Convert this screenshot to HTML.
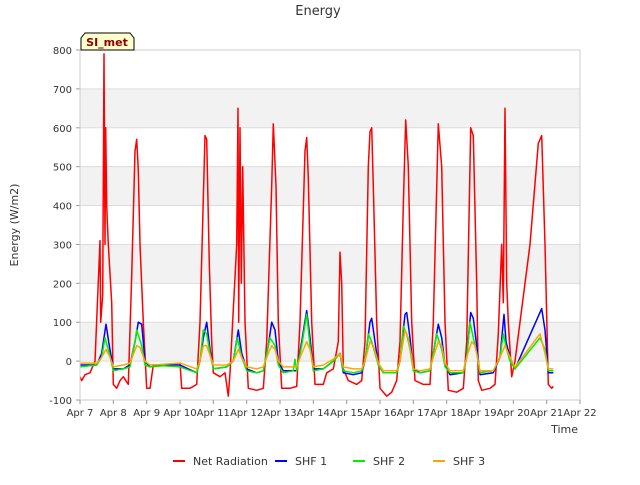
<!DOCTYPE html>
<html><head><meta charset="utf-8"><style>
body{margin:0;background:#fff;font-family:"Liberation Sans","DejaVu Sans",sans-serif}
</style></head><body>
<svg id="chart" width="640" height="480" xmlns="http://www.w3.org/2000/svg" font-family="DejaVu Sans, Liberation Sans, sans-serif">
<g id="bands"></g>
<g id="grid"></g>
<g id="series"></g>
<g id="axes"></g>
<text x="318" y="15" text-anchor="middle" font-size="13" fill="#333">Energy</text>
<text x="18" y="225" text-anchor="middle" font-size="11" fill="#333" transform="rotate(-90 18 225)">Energy (W/m2)</text>
<text x="578" y="433" text-anchor="end" font-size="11" fill="#333">Time</text>
<g>
<path d="M81,50 L81,38 L85,33 L130,33 L134,38 L134,50 Z" fill="#ffffcc" stroke="#000" stroke-width="1"/>
<text x="107" y="46" text-anchor="middle" font-size="11" font-weight="bold" fill="#8b0000">SI_met</text>
</g>
<g id="legend"></g>
</svg>
<script>
const yTicks=[-100,0,100,200,300,400,500,600,700,800];
const xTickLabels=["Apr 7","Apr 8","Apr 9","Apr 10","Apr 11","Apr 12","Apr 13","Apr 14","Apr 15","Apr 16","Apr 17","Apr 18","Apr 19","Apr 20","Apr 21","Apr 22"];
const seriesNames=["Net Radiation","SHF 1","SHF 2","SHF 3"];
const netRad=[[0,-40],[0.05,-50],[0.15,-35],[0.3,-30],[0.45,0],[0.6,310],[0.62,100],[0.68,170],[0.72,790],[0.75,300],[0.77,600],[0.8,400],[0.85,300],[0.95,150],[1.0,-60],[1.1,-70],[1.2,-50],[1.3,-40],[1.45,-60],[1.55,220],[1.65,540],[1.7,570],[1.75,490],[1.8,300],[1.9,100],[2.0,-70],[2.1,-70],[2.2,-10],[2.5,-10],[3.0,-5],[3.05,-70],[3.3,-70],[3.5,-60],[3.6,100],[3.75,580],[3.8,570],[3.88,250],[3.95,50],[4.0,-30],[4.2,-40],[4.35,-30],[4.45,-90],[4.5,-30],[4.7,300],[4.74,650],[4.76,100],[4.8,600],[4.84,200],[4.88,500],[4.95,100],[5.05,-70],[5.3,-75],[5.5,-70],[5.6,50],[5.75,450],[5.8,610],[5.88,450],[5.95,100],[6.05,-70],[6.3,-70],[6.5,-65],[6.6,100],[6.75,540],[6.8,575],[6.85,470],[6.95,100],[7.05,-60],[7.3,-60],[7.4,-30],[7.6,-20],[7.75,50],[7.8,280],[7.85,200],[7.9,-20],[8.05,-50],[8.3,-60],[8.45,-50],[8.55,50],[8.65,500],[8.7,590],[8.75,600],[8.8,450],[8.9,100],[9.0,-70],[9.2,-90],[9.35,-80],[9.5,-50],[9.6,50],[9.7,400],[9.77,620],[9.85,500],[9.95,100],[10.05,-50],[10.3,-60],[10.5,-60],[10.6,100],[10.75,610],[10.85,500],[10.95,100],[11.05,-75],[11.3,-80],[11.5,-70],[11.6,50],[11.72,600],[11.8,580],[11.9,200],[11.95,-50],[12.05,-75],[12.3,-70],[12.45,-60],[12.55,70],[12.65,300],[12.7,150],[12.75,650],[12.8,200],[12.85,100],[12.95,-40],[13.05,0],[13.5,300],[13.75,560],[13.85,580],[13.95,300],[14.05,-60],[14.15,-70],[14.2,-65]];
const shf1=[[0,-10],[0.5,-10],[0.65,20],[0.78,95],[0.88,40],[1.0,-20],[1.3,-20],[1.5,-10],[1.65,50],[1.75,100],[1.85,95],[1.95,0],[2.1,-15],[2.5,-10],[3.0,-10],[3.5,-30],[3.6,0],[3.7,60],[3.8,100],[3.9,30],[4.0,-20],[4.4,-15],[4.6,0],[4.75,80],[4.85,20],[5.0,-20],[5.3,-30],[5.5,-25],[5.65,40],[5.75,100],[5.85,80],[5.95,0],[6.1,-25],[6.5,-25],[6.65,50],[6.8,130],[6.9,60],[7.0,-20],[7.3,-20],[7.6,0],[7.8,20],[7.9,-30],[8.2,-35],[8.45,-30],[8.55,0],[8.7,100],[8.75,110],[8.85,50],[8.95,-10],[9.1,-30],[9.5,-30],[9.6,0],[9.75,120],[9.8,125],[9.9,60],[10.0,-20],[10.2,-30],[10.5,-25],[10.6,20],[10.75,95],[10.85,60],[10.95,-10],[11.1,-35],[11.5,-30],[11.6,10],[11.72,125],[11.8,110],[11.9,40],[12.0,-35],[12.4,-30],[12.6,10],[12.72,120],[12.78,50],[12.9,10],[13.05,-20],[13.85,135],[13.95,80],[14.05,-30],[14.2,-30]];
const shf2=[[0,-15],[0.5,-10],[0.65,10],[0.75,60],[0.88,20],[1.0,-25],[1.3,-20],[1.5,-15],[1.65,50],[1.7,80],[1.85,40],[1.95,-10],[2.1,-15],[2.5,-12],[3.0,-15],[3.5,-30],[3.6,0],[3.7,80],[3.8,70],[3.9,20],[4.0,-20],[4.4,-15],[4.6,0],[4.72,60],[4.85,10],[5.0,-25],[5.3,-30],[5.5,-25],[5.65,40],[5.7,60],[5.85,40],[5.95,-10],[6.1,-30],[6.4,-25],[6.45,5],[6.5,-25],[6.65,40],[6.8,120],[6.9,40],[7.0,-25],[7.3,-20],[7.6,0],[7.8,20],[7.9,-25],[8.2,-30],[8.45,-25],[8.55,0],[8.65,70],[8.75,50],[8.85,20],[8.95,-10],[9.1,-30],[9.5,-30],[9.6,0],[9.7,90],[9.8,70],[9.9,30],[10.0,-25],[10.2,-30],[10.5,-25],[10.6,20],[10.7,70],[10.85,30],[10.95,-15],[11.1,-30],[11.5,-30],[11.6,10],[11.7,100],[11.8,60],[11.9,20],[12.0,-30],[12.4,-25],[12.6,10],[12.7,70],[12.8,30],[12.9,0],[13.05,-20],[13.8,60],[13.95,30],[14.05,-25],[14.2,-25]];
const shf3=[[0,-5],[0.5,-5],[0.65,10],[0.78,30],[0.9,10],[1.0,-15],[1.3,-10],[1.5,-5],[1.7,40],[1.8,35],[1.95,0],[2.1,-10],[2.5,-8],[3.0,-5],[3.5,-20],[3.6,0],[3.7,40],[3.8,40],[3.9,15],[4.0,-10],[4.4,-10],[4.6,0],[4.75,30],[4.85,10],[5.0,-15],[5.3,-20],[5.5,-15],[5.65,20],[5.75,40],[5.85,30],[5.95,0],[6.1,-15],[6.5,-15],[6.65,20],[6.8,50],[6.9,30],[7.0,-15],[7.3,-10],[7.6,5],[7.8,20],[7.9,-15],[8.2,-20],[8.45,-20],[8.55,0],[8.7,50],[8.8,40],[8.9,10],[8.95,-5],[9.1,-25],[9.5,-25],[9.6,0],[9.75,80],[9.85,60],[9.95,10],[10.0,-20],[10.2,-25],[10.5,-20],[10.6,10],[10.75,50],[10.85,40],[10.95,-5],[11.1,-25],[11.5,-25],[11.6,10],[11.75,50],[11.85,40],[11.95,0],[12.0,-25],[12.4,-25],[12.6,10],[12.75,40],[12.85,20],[12.95,0],[13.05,-15],[13.8,70],[13.95,20],[14.05,-20],[14.2,-20]];
const NS="http://www.w3.org/2000/svg";
const L=80,R=580,T=50,B=400;
const xs=d=>L+d*(R-L)/15;
const ys=v=>B-(v+100)*(B-T)/900;
function mk(tag,attrs,parent){const e=document.createElementNS(NS,tag);for(const k in attrs)e.setAttribute(k,attrs[k]);parent.appendChild(e);return e;}
const bands=document.getElementById('bands'),grid=document.getElementById('grid'),axes=document.getElementById('axes'),series=document.getElementById('series'),legend=document.getElementById('legend');
mk('rect',{x:L,y:T,width:R-L,height:B-T,fill:'#fff'},bands);
for(let i=0;i<yTicks.length-1;i++){if(i%2===1){const b=mk('rect',{x:L,y:ys(yTicks[i+1]),width:R-L,height:ys(yTicks[i])-ys(yTicks[i+1]),fill:'#f2f2f2'},bands);

}}
yTicks.forEach(v=>{const g=mk('line',{x1:L,x2:R,y1:ys(v),y2:ys(v),stroke:'#dcdcdc','stroke-width':1},grid);


const t=mk('text',{x:L-8,y:ys(v)+4,'text-anchor':'end','font-size':10,fill:'#333'},axes);t.textContent=v;


mk('line',{x1:L-4,x2:L,y1:ys(v),y2:ys(v),stroke:'#999'},axes);});
mk('rect',{x:L,y:T,width:R-L,height:B-T,fill:'none',stroke:'#ccc'},axes);
xTickLabels.forEach((s,i)=>{mk('line',{x1:xs(i),x2:xs(i),y1:B,y2:B+4,stroke:'#999'},axes);
const t=mk('text',{x:xs(i),y:B+16,'text-anchor':'middle','font-size':10,fill:'#333'},axes);t.textContent=s;

});
const colors=['#ff0000','#0000ff','#00ee00','#ffa500'];
[netRad,shf1,shf2,shf3].forEach((d,i)=>{const p=mk('polyline',{points:d.map(q=>xs(q[0]).toFixed(1)+','+ys(q[1]).toFixed(1)).join(' '),fill:'none',stroke:colors[i],'stroke-width':1.5,'stroke-linejoin':'round'},series);

});
const lx=[173,275,353,433];
seriesNames.forEach((n,i)=>{const g=mk('g',{},legend);


mk('line',{x1:lx[i],x2:lx[i]+12,y1:461,y2:461,stroke:colors[i],'stroke-width':2},g);
const t=mk('text',{x:lx[i]+20,y:465,'font-size':11,fill:'#333'},g);t.textContent=n;});
</script>
</body></html>
